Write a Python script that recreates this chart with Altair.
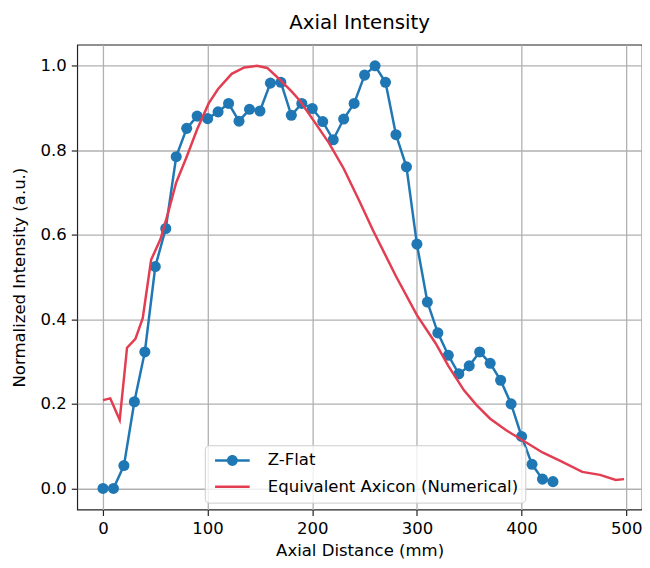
import altair as alt
import pandas as pd

# Z-Flat measured points (mm, normalized intensity)
zflat_x = [0, 10, 20, 30, 40, 50, 60, 70, 80, 90, 100, 110, 120, 130, 140, 150,
           160, 170, 180, 190, 200, 210, 220, 230, 240, 250, 260, 270, 280, 290,
           300, 310, 320, 330, 340, 350, 360, 370, 380, 390, 400, 410, 420, 430]
zflat_y = [0.0, 0.0, 0.054, 0.205, 0.323, 0.525, 0.615, 0.785, 0.852, 0.881,
           0.875, 0.891, 0.911, 0.869, 0.897, 0.893, 0.959, 0.961, 0.883, 0.911,
           0.899, 0.868, 0.825, 0.874, 0.911, 0.978, 1.0, 0.961, 0.837, 0.761,
           0.578, 0.441, 0.368, 0.315, 0.271, 0.29, 0.323, 0.296, 0.256, 0.20,
           0.123, 0.057, 0.022, 0.016]

# Equivalent Axicon (numerical) curve
axicon_x = [0, 7, 16, 23, 31, 38, 46, 55, 62, 70, 80, 90, 101, 110, 123, 135,
            147, 157, 170, 180, 188, 200, 216, 230, 245, 258, 280, 300, 318,
            330, 345, 357, 370, 385, 399, 420, 437, 458, 475, 490, 498]
axicon_y = [0.209, 0.213, 0.162, 0.333, 0.354, 0.403, 0.541, 0.59, 0.65, 0.724,
            0.785, 0.85, 0.911, 0.945, 0.981, 0.996, 1.0, 0.995, 0.965, 0.94,
            0.918, 0.875, 0.817, 0.757, 0.68, 0.611, 0.502, 0.41, 0.343,
            0.29, 0.232, 0.197, 0.165, 0.138, 0.117, 0.085, 0.065, 0.039,
            0.032, 0.02, 0.022]

series = ["Z-Flat", "Equivalent Axicon (Numerical)"]
colors = ["#1f77b4", "#e33d52"]
x_ticks = [0, 100, 200, 300, 400, 500]
y_ticks = [0.0, 0.2, 0.4, 0.6, 0.8, 1.0]

df_z = pd.DataFrame({"x": zflat_x, "y": zflat_y, "series": series[0]})
df_a = pd.DataFrame({"x": axicon_x, "y": axicon_y, "series": series[1]})
df_all = pd.concat([df_z, df_a], ignore_index=True)

path_z = "M-3.5,-0.25H3.5V0.25H-3.5ZM1.1,0A1.1,1.1,0,1,1,-1.1,0A1.1,1.1,0,1,1,1.1,0Z"
path_a = "M-3.5,-0.25H3.5V0.25H-3.5Z"

x_enc = alt.X("x:Q",
              scale=alt.Scale(domain=[-24.6, 515.1], nice=False, zero=False),
              axis=alt.Axis(values=x_ticks, title="Axial Distance (mm)",
                            format="d", labelPadding=5, titlePadding=6))
y_enc = alt.Y("y:Q",
              scale=alt.Scale(domain=[-0.05, 1.05], nice=False, zero=False),
              axis=alt.Axis(values=y_ticks, title="Normalized Intensity (a.u.)",
                            format=".1f", labelPadding=5, titlePadding=12))
color_scale = alt.Scale(domain=series, range=colors)

legend = alt.Legend(
    title=None, orient="none", legendX=129, legendY=405,
    symbolType=alt.ExprRef(expr="datum.value === 'Z-Flat' ? '" + path_z + "' : '" + path_a + "'"),
    symbolSize=100, symbolOffset=12.5, labelOffset=27.5, symbolStrokeWidth=0,
    labelFont="DejaVu Sans", labelFontSize=16.7, labelColor="black", labelLimit=400,
    rowPadding=8.5, padding=7, strokeColor="#cccccc",
    fillColor="rgba(255,255,255,0.8)", cornerRadius=4,
)

points = alt.Chart(df_z).mark_point(filled=True, size=125, opacity=1).encode(
    x=x_enc, y=y_enc,
    color=alt.Color("series:N", scale=color_scale, legend=legend),
)

lines = alt.Chart(df_all).mark_line(strokeWidth=2.5).encode(
    x=x_enc, y=y_enc,
    color=alt.Color("series:N", scale=color_scale, legend=None),
    order=alt.Order("x:Q"),
)

chart = alt.layer(points, lines).properties(
    width=571, height=470,
    title=alt.Title("Axial Intensity", font="DejaVu Sans", fontSize=20,
                    fontWeight="normal", color="black", offset=10,
                    baseline="alphabetic", dy=14),
    autosize=alt.AutoSizeParams(type="none"),
    padding={"left": 70, "top": 34, "right": 0, "bottom": 54},
).configure_view(
    stroke="#222222", strokeWidth=1.2,
).configure_axis(
    grid=True, gridColor="#b0b0b0", gridWidth=1.3,
    domain=False, tickColor="#222222", tickSize=6, tickWidth=1.2,
    labelFont="DejaVu Sans", labelFontSize=16.7, labelColor="black",
    titleFont="DejaVu Sans", titleFontSize=16.7, titleFontWeight="normal",
    titleColor="black",
)

chart.save("out.html", embed_options={"renderer": "svg", "actions": False})
